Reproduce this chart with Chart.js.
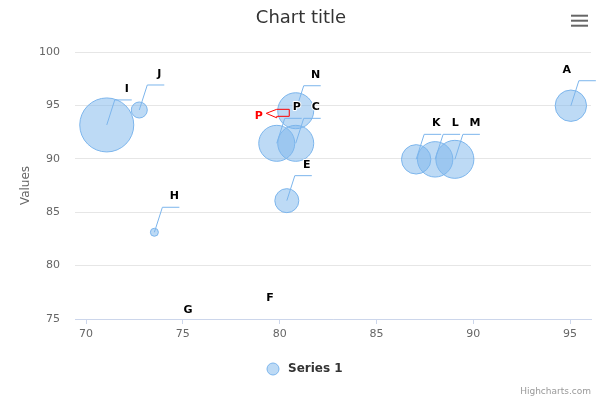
<!DOCTYPE html>
<html lang="en">
<head>
<meta charset="UTF-8">
<title>Chart title</title>
<style>
  html, body { margin: 0; padding: 0; background: #fff; }
  canvas { display: block; }
</style>
</head>
<body>
<canvas id="chart" width="601" height="399"></canvas>
<script src="https://cdn.jsdelivr.net/npm/chart.js@4.4.0/dist/chart.umd.min.js"></script>
<script>
// values
const pointNames = ['I', 'J', 'H', 'G', 'F', 'P', 'C', 'N', 'E', 'K', 'L', 'M', 'A'];
const xValues = [71.07, 72.75, 73.53, 74.24, 78.47, 79.85, 80.83, 80.83, 80.37, 87.05, 88.03, 89.05, 95.04];
const yValues = [93.17, 94.57, 83.12, 72.47, 73.6, 91.45, 91.45, 94.5, 86.08, 89.95, 89.95, 89.95, 94.97];
const bubbleSizes = [27, 8, 4, 10, 10, 18, 18, 18, 12, 14.7, 17.7, 19, 15.7];
const xTicks = [70, 75, 80, 85, 90, 95];
const yTicks = [75, 80, 85, 90, 95, 100];

const FONT = '"DejaVu Sans", "Lucida Grande", Arial, sans-serif';
const BLUE = '#7cb5ec';
const BLUE_FILL = 'rgba(124, 181, 236, 0.5)';

const points = pointNames.map((n, i) => ({ x: xValues[i], y: yValues[i], r: bubbleSizes[i] }));

function outlinedText(ctx, txt, x, y, color) {
    ctx.lineWidth = 2;
    ctx.lineJoin = 'round';
    ctx.strokeStyle = '#fff';
    ctx.strokeText(txt, x, y);
    ctx.fillStyle = color;
    ctx.fillText(txt, x, y);
}

// data labels with the bent connector lines
const bubbleLabels = {
    id: 'bubbleLabels',
    afterDatasetsDraw(chart) {
        const ctx = chart.ctx;
        const area = chart.chartArea;
        const meta = chart.getDatasetMeta(0);
        ctx.save();
        ctx.strokeStyle = BLUE;
        ctx.lineWidth = 1;
        meta.data.forEach((pt) => {
            if (pt.y > area.bottom) return;
            ctx.beginPath();
            ctx.moveTo(pt.x, pt.y);
            ctx.lineTo(pt.x + 8, pt.y - 25);
            ctx.lineTo(pt.x + 25, pt.y - 25);
            ctx.stroke();
        });

        ctx.font = 'bold 11px ' + FONT;
        ctx.textAlign = 'center';
        ctx.textBaseline = 'middle';
        meta.data.forEach((pt, i) => {
            let lx = pt.x + 20;
            if (lx + 6 > area.right) lx = pt.x - 4;
            let ly = pt.y - 36;
            outlinedText(ctx, pointNames[i], lx, ly, '#000');
        });

        // red callout next to P
        const pi = pointNames.indexOf('P');
        const p = meta.data[pi];
        ctx.strokeStyle = '#ff0000';
        ctx.lineWidth = 1;
        ctx.beginPath();
        ctx.moveTo(p.x - 10.5, p.y - 30);
        ctx.lineTo(p.x, p.y - 34);
        ctx.lineTo(p.x + 12.5, p.y - 34);
        ctx.lineTo(p.x + 12.5, p.y - 27);
        ctx.lineTo(p.x, p.y - 27);
        ctx.lineTo(p.x, p.y - 25.5);
        ctx.closePath();
        ctx.stroke();
        outlinedText(ctx, 'P', p.x - 18, p.y - 27, '#ff0000');
        ctx.restore();
    },
    afterDraw(chart) {
        const ctx = chart.ctx;
        ctx.save();
        // title
        ctx.font = '18px ' + FONT;
        ctx.fillStyle = '#333333';
        ctx.textAlign = 'center';
        ctx.textBaseline = 'middle';
        ctx.fillText('Chart title', 301, 18);

        // menu button
        ctx.fillStyle = '#666666';
        [14.7, 19.7, 24.7].forEach(y => ctx.fillRect(571, y, 17, 2));

        // legend
        ctx.beginPath();
        ctx.arc(273, 369, 6, 0, Math.PI * 2);
        ctx.fillStyle = BLUE_FILL;
        ctx.fill();
        ctx.strokeStyle = BLUE;
        ctx.lineWidth = 1;
        ctx.stroke();
        ctx.font = 'bold 12px ' + FONT;
        ctx.fillStyle = '#333333';
        ctx.textAlign = 'left';
        ctx.fillText('Series 1', 288, 369);

        // credits
        ctx.font = '9px ' + FONT;
        ctx.fillStyle = '#999999';
        ctx.textAlign = 'right';
        ctx.fillText('Highcharts.com', 591, 392);
        ctx.restore();
    }
};

new Chart(document.getElementById('chart'), {
    type: 'bubble',
    data: {
        datasets: [{
            label: 'Series 1',
            data: points,
            backgroundColor: BLUE_FILL,
            borderColor: BLUE,
            borderWidth: 1,
            hoverRadius: 0,
            clip: 0
        }]
    },
    options: {
        responsive: false,
        animation: false,
        devicePixelRatio: 1,
        layout: { autoPadding: false, padding: { left: 0, right: 10, top: 52, bottom: 0 } },
        plugins: {
            legend: { display: false },
            title: { display: false },
            tooltip: { enabled: false }
        },
        scales: {
            x: {
                type: 'linear',
                min: 69.43,
                max: 96.08,
                afterBuildTicks: (s) => { s.ticks = xTicks.map(v => ({ value: v })); },
                afterFit: (s) => { s.height = 80; },
                grid: { drawOnChartArea: false, drawTicks: true, tickLength: 5, color: '#ccd6eb' },
                border: { color: '#ccd6eb' },
                ticks: { color: '#666666', font: { family: FONT, size: 11 }, padding: 4, maxRotation: 0 }
            },
            y: {
                type: 'linear',
                min: 75,
                max: 100,
                afterBuildTicks: (s) => { s.ticks = yTicks.map(v => ({ value: v })); },
                afterFit: (s) => { s.width = 75; },
                grid: { color: '#e6e6e6', drawTicks: false },
                border: { display: false },
                ticks: { color: '#666666', font: { family: FONT, size: 11 }, padding: 15 },
                title: { display: true, text: 'Values', color: '#666666', font: { family: FONT, size: 12 }, padding: { top: 19, bottom: 0 } }
            }
        }
    },
    plugins: [bubbleLabels]
});
</script>
</body>
</html>
